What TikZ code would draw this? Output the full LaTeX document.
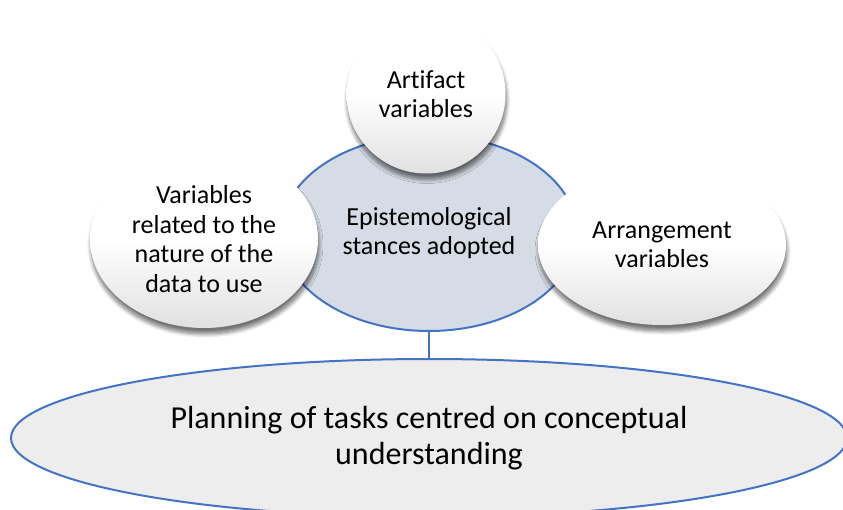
\documentclass[tikz,border=0pt]{standalone}
\usepackage{fontspec}
\setmainfont{Carlito}[Ligatures={NoCommon,NoContextual}]
\usetikzlibrary{shapes.geometric,shadows.blur}
\definecolor{edgeblue}{HTML}{4472C4}
\definecolor{centerfill}{HTML}{D6DCE5}
\definecolor{planfill}{HTML}{EDEDED}
\tikzset{
  bubble/.style={ellipse, inner sep=0pt, align=center,
    top color=white, bottom color=black!12, middle color=white,
    blur shadow={shadow xshift=1pt, shadow yshift=-6pt, shadow blur steps=8, shadow opacity=55, shadow blur radius=4pt},
    font=\fontsize{26}{29.5}\selectfont},
  centre/.style={ellipse, inner sep=0pt, align=center, draw=edgeblue, line width=2pt, fill=centerfill,
    font=\fontsize{26}{29.5}\selectfont},
  planstyle/.style={ellipse, inner sep=0pt, align=center, draw=edgeblue, line width=2pt, fill=planfill,
    font=\fontsize{32}{36}\selectfont},
  link/.style={draw=edgeblue, line width=2pt}
}
\begin{document}
\begin{tikzpicture}[x=1pt,y=-1pt]
\useasboundingbox (0,0) rectangle (843,510);
\node[planstyle, minimum width=836pt, minimum height=158pt] (plan) at (429,438)
  {Planning of tasks centred on conceptual\\understanding};
\node[centre, minimum width=296pt, minimum height=196pt] (epi) at (429,233)
  {Epistemological\\stances adopted};
\draw[link] (epi.south) -- (plan.north);
\node[bubble, minimum width=159pt, minimum height=159pt] (art) at (426,94)
  {Artifact\\variables};
\node[bubble, minimum width=228pt, minimum height=178pt] (nat) at (204,239)
  {Variables\\related to the\\nature of the\\data to use};
\node[bubble, minimum width=248pt, minimum height=160pt] (arr) at (662,245)
  {Arrangement\\variables};
\end{tikzpicture}
\end{document}
